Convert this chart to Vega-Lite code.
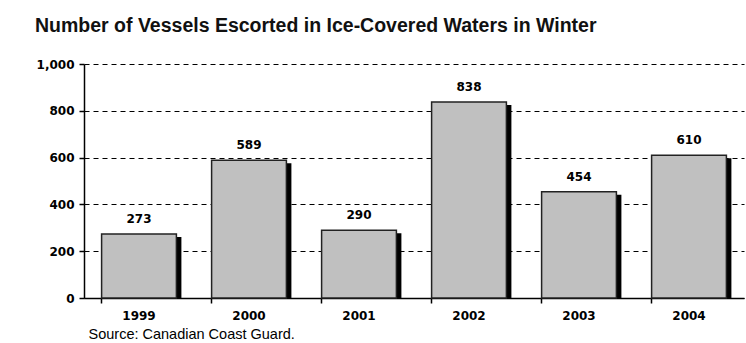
{
  "$schema": "https://vega.github.io/schema/vega-lite/v6.json",
  "autosize": "none",
  "width": 660,
  "height": 234,
  "padding": {"left": 84, "top": 64, "right": 2, "bottom": 45},
  "background": "white",
  "title": {
    "text": "Number of Vessels Escorted in Ice-Covered Waters in Winter",
    "anchor": "start",
    "frame": "group",
    "dx": -49,
    "offset": 22,
    "font": "Liberation Sans",
    "fontSize": 19.5,
    "fontWeight": "bold",
    "color": "#111111"
  },
  "data": {
    "values": [
      {"year": "1999", "vessels": 273},
      {"year": "2000", "vessels": 589},
      {"year": "2001", "vessels": 290},
      {"year": "2002", "vessels": 838},
      {"year": "2003", "vessels": 454},
      {"year": "2004", "vessels": 610}
    ]
  },
  "encoding": {
    "x": {
      "field": "year",
      "type": "nominal",
      "sort": null,
      "scale": {"paddingInner": 0.32, "paddingOuter": 0.16},
      "axis": {
        "title": "Source: Canadian Coast Guard.",
        "titleAnchor": "start",
        "titleAlign": "left",
        "titleBaseline": "top",
        "titleX": 4,
        "titleY": 29,
        "titleFont": "Liberation Sans",
        "titleFontSize": 14.5,
        "titleFontWeight": "normal",
        "titleColor": "black",
        "labelAngle": 0,
        "labelFont": "DejaVu Sans",
        "labelFontSize": 12,
        "labelFontWeight": "bold",
        "labelColor": "black",
        "labelPadding": 7,
        "bandPosition": 0,
        "tickColor": "black",
        "tickSize": 5,
        "tickWidth": 1.5,
        "domainColor": "black",
        "domainWidth": 1.5,
        "grid": false
      }
    },
    "y": {
      "field": "vessels",
      "type": "quantitative",
      "scale": {"domain": [0, 1000], "nice": false},
      "axis": {
        "title": null,
        "values": [0, 200, 400, 600, 800, 1000],
        "format": ",d",
        "labelFont": "DejaVu Sans",
        "labelFontSize": 12,
        "labelFontWeight": "bold",
        "labelColor": "black",
        "labelPadding": 5,
        "tickColor": "black",
        "tickSize": 5,
        "tickWidth": 1.5,
        "domainColor": "black",
        "domainWidth": 1.5,
        "grid": true,
        "gridColor": "black",
        "gridWidth": 1,
        "gridDash": [5, 4]
      }
    }
  },
  "layer": [
    {
      "mark": {"type": "bar", "color": "black", "xOffset": 5, "yOffset": 3, "clip": true}
    },
    {
      "mark": {"type": "bar", "fill": "#c0c0c0", "stroke": "#222222", "strokeWidth": 1.5}
    },
    {
      "mark": {"type": "text", "dy": -11, "baseline": "alphabetic", "font": "DejaVu Sans", "fontSize": 12, "fontWeight": "bold", "color": "black"},
      "encoding": {"text": {"field": "vessels", "type": "quantitative"}}
    }
  ],
  "config": {
    "view": {"stroke": null}
  }
}
